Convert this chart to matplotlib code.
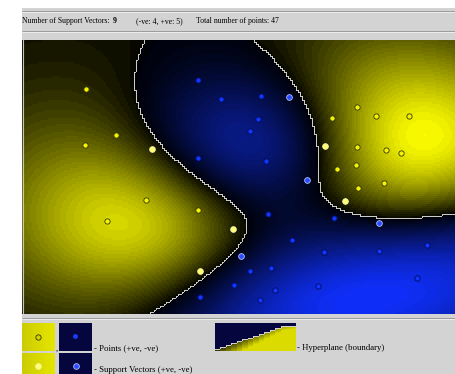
import numpy as np
import matplotlib
matplotlib.use("Agg")
import matplotlib.pyplot as plt
from matplotlib.patches import Rectangle

# ---- training points (plot coordinates: x right, y down) ----
pos_x = [64, 94, 63, 130, 335, 310, 354, 387, 303, 335, 364, 379, 315, 334, 124, 85, 176, 211, 178, 336, 362, 323]
pos_y = [49, 95, 105, 109, 67, 78, 76, 76, 106, 107, 110, 113, 129, 125, 160, 181, 170, 189, 231, 148, 143, 161]
pos_sv = [0, 0, 0, 1, 0, 0, 0, 0, 1, 0, 0, 0, 0, 0, 0, 0, 0, 1, 1, 0, 0, 1]

neg_x = [176, 199, 176, 239, 267, 236, 228, 244, 285, 178, 212, 219, 357, 246, 312, 270, 302, 357, 405, 228, 249, 253, 296, 395, 238]
neg_y = [40, 59, 118, 56, 57, 79, 91, 121, 140, 257, 245, 216, 183, 174, 178, 200, 212, 211, 205, 231, 228, 250, 246, 238, 260]
neg_sv = [0, 0, 0, 0, 1, 0, 0, 0, 1, 0, 0, 1, 1, 0, 0, 0, 0, 0, 0, 0, 0, 0, 0, 0, 0]

PLOT_W, PLOT_H = 433, 274      # drawing area size (coordinate units)
SIGMA = 0.25                   # RBF width in normalised coordinates
CELL = 2                       # evaluation block size

W_PX, H_PX = 455, 374
BG = "#d3d3d3"

# ---- decision function from the support vectors (hard-margin KKT system) ----
px = np.array(pos_x, float); py = np.array(pos_y, float)
nx = np.array(neg_x, float); ny = np.array(neg_y, float)
psv = np.array(pos_sv, bool); nsv = np.array(neg_sv, bool)

S = np.r_[np.c_[px[psv], py[psv]], np.c_[nx[nsv], ny[nsv]]]
ys = np.r_[np.ones(psv.sum()), -np.ones(nsv.sum())]
scale = np.array([PLOT_W, PLOT_H], float)


def rbf(A, B):
    d = (A[:, None, :] - B[None, :, :]) / scale
    return np.exp(-(d ** 2).sum(-1) / (2 * SIGMA ** 2))


n = len(ys)
M = np.zeros((n + 1, n + 1))
M[:n, :n] = rbf(S, S) * np.outer(ys, ys)
M[:n, n] = ys
M[n, :n] = ys
sol = np.linalg.solve(M, np.r_[np.ones(n), 0.0])
alpha, bias = sol[:n], sol[n]

cx = np.arange(0, PLOT_W + CELL, CELL) + CELL / 2
cy = np.arange(0, PLOT_H + CELL, CELL) + CELL / 2
GX, GY = np.meshgrid(cx, cy)
F = (rbf(np.c_[GX.ravel(), GY.ravel()], S) @ (alpha * ys) + bias).reshape(GX.shape)
F = np.repeat(np.repeat(F, CELL, 0), CELL, 1)[:PLOT_H, :PLOT_W]

tp = np.clip(F / F.max(), 0, 1)
tn = np.clip(F / F.min(), 0, 1)
t = np.where(F > 0, tp, tn)
t = 0.05 + 0.95 * t
t = np.floor(t * 32) / 32
rgb = np.zeros(F.shape + (3,))
rgb[..., 0] = np.where(F > 0, t, 0.06 * t)
rgb[..., 1] = np.where(F > 0, t, 0.19 * t)
rgb[..., 2] = np.where(F > 0, 0.0, t)

sgn = F > 0
edge = np.zeros_like(sgn)
edge[:, 1:] |= sgn[:, 1:] != sgn[:, :-1]
edge[1:, :] |= sgn[1:, :] != sgn[:-1, :]
rgb[edge] = (0.80, 0.80, 0.78)

# ---- figure and background panel ----
fig = plt.figure(figsize=(W_PX / 100, H_PX / 100), dpi=100, facecolor="white")
bgax = fig.add_axes([0, 0, 1, 1])
bgax.set_xlim(0, W_PX)
bgax.set_ylim(H_PX, 0)
bgax.axis("off")
bgax.add_patch(Rectangle((22, 8), W_PX - 22, H_PX - 8, color=BG, lw=0))
for yl in (10.5, 30.5, 317.5):
    bgax.plot([22, W_PX], [yl, yl], color="#9c9c9c", lw=0.75, solid_capstyle="butt")
    bgax.plot([22, W_PX], [yl + 1, yl + 1], color="#ececec", lw=0.75, solid_capstyle="butt")

serif = ["Liberation Serif", "DejaVu Serif"]
n_pos_sv, n_neg_sv = int(psv.sum()), int(nsv.sum())
n_total = len(pos_x) + len(neg_x)
hdr = dict(fontsize=5.6, family=serif, va="baseline", ha="left", color="black")
bgax.text(22.5, 23, "Number of Support Vectors:", **hdr)
bgax.text(112.5, 23, f"{n_pos_sv + n_neg_sv}", fontweight="bold", **hdr)
bgax.text(136, 23, f"(-ve: {n_neg_sv}, +ve: {n_pos_sv})", **hdr)
bgax.text(196.5, 23, f"Total number of points: {n_total}", **hdr)

# ---- decision surface ----
ax = fig.add_axes([22 / W_PX, (H_PX - 40 - PLOT_H) / H_PX, PLOT_W / W_PX, PLOT_H / H_PX])
ax.imshow(rgb, extent=(0, PLOT_W, PLOT_H, 0), interpolation="nearest", aspect="auto")
ax.set_xlim(0, PLOT_W)
ax.set_ylim(PLOT_H, 0)
ax.axis("off")
ax.plot([0.5, 0.5], [0, PLOT_H], color="#c4c4c4", lw=0.8)

MS = 3.8
ax.plot(px[~psv], py[~psv], "o", ms=MS, mfc="#f4f400", mec="#343400", mew=0.6, ls="none")
ax.plot(nx[~nsv], ny[~nsv], "o", ms=MS, mfc="#1236ff", mec="#000a55", mew=0.6, ls="none")
ax.plot(px[psv], py[psv], "o", ms=MS + 0.3, mfc="#ffff70", mec="#f2f2b0", mew=0.6, ls="none")
ax.plot(nx[nsv], ny[nsv], "o", ms=MS + 0.3, mfc="#2a4cff", mec="#b4c2ff", mew=0.6, ls="none")

# ---- legend ----
def yellow_box(x0, y0, w, h):
    g = np.linspace(0, 1, 40)
    img = np.zeros((2, 40, 3))
    img[..., 0] = 0.80 + 0.10 * g
    img[..., 1] = 0.80 + 0.10 * g
    bgax.imshow(img, extent=(x0, x0 + w, y0 + h, y0), aspect="auto", interpolation="bilinear", zorder=2)


def navy_box(x0, y0, w, h):
    bgax.add_patch(Rectangle((x0, y0), w, h, color="#05063e", lw=0, zorder=2))


yellow_box(22, 323, 33, 28)
navy_box(59, 323, 33, 28)
yellow_box(22, 353, 33, 24)
navy_box(59, 353, 33, 24)
bgax.plot([37.7], [337.3], "o", ms=MS, mfc="#d4d400", mec="#343400", mew=0.6, zorder=3)
bgax.plot([75.3], [336.3], "o", ms=MS - 0.6, mfc="#1a3cff", mec="#1a3cff", mew=0.3, zorder=3)
bgax.plot([37.7], [366], "o", ms=MS + 0.3, mfc="#ffff70", mec="#f2f2b0", mew=0.6, zorder=3)
bgax.plot([75.7], [366], "o", ms=MS + 0.3, mfc="#2a4cff", mec="#b4c2ff", mew=0.6, zorder=3)

# hyperplane swatch: stepped boundary between navy and yellow
hw, hh = 81, 28
hx = np.arange(hw)[None, :] + 0.5
hy = np.arange(hh)[:, None] + 0.5
step = np.floor(np.clip(hx / 66, 0, 1) * 12) / 12
yb = 26 - 23 * step
below = hy > yb
tt = np.clip(0.12 + 0.05 * (hy - yb) + 0.6 * hx / hw, 0, 0.86)
himg = np.zeros((hh, hw, 3))
himg[...] = (0.02, 0.024, 0.24)
himg[..., 0] = np.where(below, tt, himg[..., 0])
himg[..., 1] = np.where(below, tt, himg[..., 1])
himg[..., 2] = np.where(below, 0.0, himg[..., 2])
hb = np.zeros((hh, hw), bool)
hb[1:, :] |= below[1:, :] != below[:-1, :]
hb[:, 1:] |= below[:, 1:] != below[:, :-1]
himg[hb] = (0.82, 0.82, 0.80)
bgax.imshow(himg, extent=(215, 215 + hw, 323 + hh, 323), aspect="auto", interpolation="nearest", zorder=2)

leg = dict(fontsize=6.3, family=serif, va="baseline", ha="left", color="black")
bgax.text(55.5, 351, ",", **leg)
bgax.text(94, 350, "- Points (+ve, -ve)", **leg)
bgax.text(297, 350, "- Hyperplane (boundary)", **leg)
bgax.text(94, 371.5, "- Support Vectors (+ve, -ve)", **leg)

fig.savefig("out.png", dpi=100, facecolor="white")
